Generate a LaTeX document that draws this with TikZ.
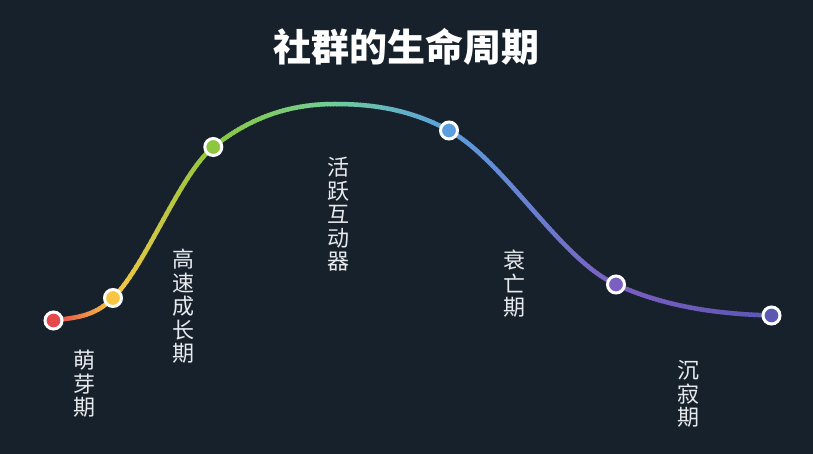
\documentclass[tikz,border=0pt]{standalone}
\usepackage{fontspec}
\newfontfamily\cjk{Noto Sans CJK SC}
\definecolor{bg}{HTML}{17212B}
\definecolor{lab}{HTML}{E8EAED}
\definecolor{c0}{HTML}{E5484D}
\definecolor{c1}{HTML}{F8C742}
\definecolor{c2}{HTML}{8DC63F}
\definecolor{c3}{HTML}{6FCF97}
\definecolor{c4}{HTML}{5A9EE0}
\definecolor{c5}{HTML}{7A5EC0}
\definecolor{c6}{HTML}{5B57B5}
\tikzset{
  curveline/.style={line width=4.5pt, line cap=round, line join=round},
  dot/.style={circle, minimum size=17pt, inner sep=0pt, line width=3pt, draw=white},
  stagelabel/.style={font=\cjk\fontsize{22}{23.5}\selectfont, text=lab, align=center, inner sep=0pt},
  titlelabel/.style={font=\cjk\bfseries\fontsize{38}{40}\selectfont, text=white, inner sep=0pt}
}
\begin{document}
\begin{tikzpicture}[x=1pt,y=-1pt]
\fill[bg] (0,0) rectangle (813,454);
\useasboundingbox (0,0) rectangle (813,454);
\coordinate (p1) at (53.5,320.5);
\coordinate (p2) at (113,298);
\coordinate (p3) at (213.3,147);
\coordinate (pk) at (335,104);
\coordinate (p4) at (449,130.5);
\coordinate (p5) at (616,284.5);
\coordinate (p6) at (771.5,315.5);
\def\curvepath{(p1) .. controls (73.3,317.5) and (93.2,317.8) .. (p2)
  .. controls (146.4,264.6) and (179.9,174) .. (p3)
  .. controls (253.9,114.5) and (294.4,104) .. (pk)
  .. controls (373,104) and (411,109.6) .. (p4)
  .. controls (504.7,161.1) and (560.3,259.4) .. (p5)
  .. controls (667.8,307.8) and (719.7,314) .. (p6)}
\foreach \xa/\xb/\ca/\cb/\n in {30/54/c0/c0/1, 54/113/c0/c1/20, 113/213/c1/c2/33, 213/330/c2/c3/39, 330/449/c3/c4/40, 449/616/c4/c5/56, 616/772/c5/c6/52, 772/800/c6/c6/1}{
  \foreach \k in {1,...,\n}{
    \pgfmathsetmacro\xl{\xa+(\xb-\xa)*(\k-1)/\n}
    \pgfmathsetmacro\xr{\xa+(\xb-\xa)*\k/\n+0.8}
    \pgfmathsetmacro\p{100*(\k-0.5)/\n}
    \begin{scope}
      \clip (\xl,0) rectangle (\xr,454);
      \draw[curveline, draw=\cb!\p!\ca] \curvepath;
    \end{scope}
  }
}
\node[dot, fill=c0] (d1) at (p1) {};
\node[dot, fill=c1] (d2) at (p2) {};
\node[dot, fill=c2] (d3) at (p3) {};
\node[dot, fill=c4] (d4) at (p4) {};
\node[dot, fill=c5] (d5) at (p5) {};
\node[dot, fill=c6] (d6) at (p6) {};
\node[titlelabel] (title) at (406,47) {社群的生命周期};
\node[stagelabel] (l1) at (84,384) {萌\\芽\\期};
\node[stagelabel] (l2) at (183,306.5) {高\\速\\成\\长\\期};
\node[stagelabel] (l3) at (338,214.5) {活\\跃\\互\\动\\器};
\node[stagelabel] (l4) at (514,284) {衰\\亡\\期};
\node[stagelabel] (l5) at (688,394) {沉\\寂\\期};
\end{tikzpicture}
\end{document}
